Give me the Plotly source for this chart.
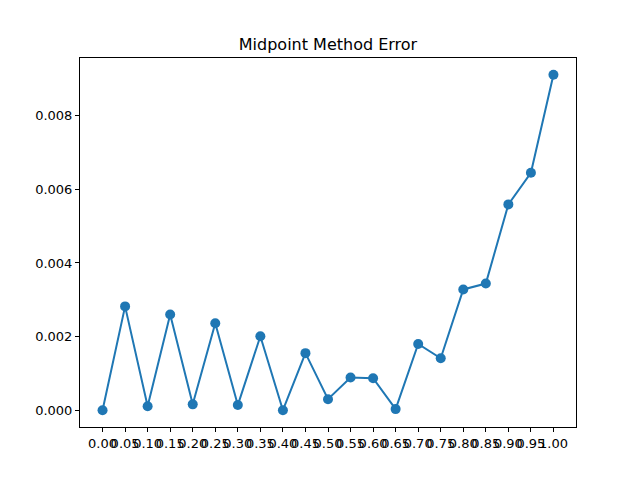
import plotly.graph_objects as go

x_vals = [0.00, 0.05, 0.10, 0.15, 0.20, 0.25, 0.30, 0.35, 0.40, 0.45, 0.50,
          0.55, 0.60, 0.65, 0.70, 0.75, 0.80, 0.85, 0.90, 0.95, 1.00]
error_vals = [0.0, 0.00282, 0.00011, 0.00260, 0.00016, 0.00236, 0.00014, 0.00201,
              0.0, 0.00155, 0.00030, 0.00089, 0.00087, 0.00003, 0.00180, 0.00141,
              0.00328, 0.00344, 0.00559, 0.00645, 0.00911]
x_tick_labels = ["%.2f" % v for v in x_vals]
y_tick_vals = [0.000, 0.002, 0.004, 0.006, 0.008]
y_tick_labels = ["0.000", "0.002", "0.004", "0.006", "0.008"]

color = "#1f77b4"
fig = go.Figure()
fig.add_trace(go.Scatter(
    x=x_vals, y=error_vals, mode="lines+markers",
    line=dict(color=color, width=2),
    marker=dict(color=color, size=10),
    showlegend=False,
))

ymin, ymax = min(error_vals), max(error_vals)
pad = 0.05 * (ymax - ymin)

axis_common = dict(
    showgrid=False, zeroline=False, showline=True, linecolor="black", linewidth=1,
    mirror=True, ticks="outside", ticklen=4, tickcolor="black", tickwidth=1,
    tickfont=dict(family="DejaVu Sans", size=13, color="black"),
)
fig.update_layout(
    width=640, height=480,
    paper_bgcolor="white", plot_bgcolor="white",
    margin=dict(l=72, r=72, t=50, b=61),
    title=dict(text="Midpoint Method Error", x=(72 + 248) / 640, xanchor="center",
               y=1 - 36 / 480, yanchor="middle",
               font=dict(family="DejaVu Sans", size=16, color="black")),
    xaxis=dict(range=[-0.05, 1.05], tickmode="array", tickvals=x_vals,
               ticktext=x_tick_labels, tickangle=0, **axis_common),
    yaxis=dict(range=[ymin - pad, ymax + pad], tickmode="array",
               tickvals=y_tick_vals, ticktext=y_tick_labels, **axis_common),
)
fig.write_html("out.html")
